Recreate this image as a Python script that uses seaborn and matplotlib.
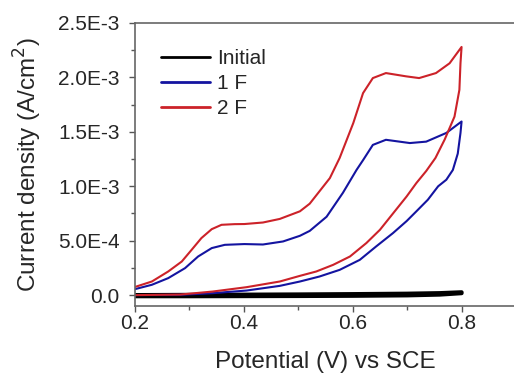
"""
Voltametria cíclica: densidade de corrente vs potencial (Initial, 1 F, 2 F)
"""

import pandas as pd
import matplotlib.pyplot as plt
import seaborn as sns

# Varredura da amostra inicial (ida e volta)
initial_potential = [0.20, 0.30, 0.40, 0.50, 0.60, 0.70, 0.76, 0.80,
                     0.80, 0.76, 0.70, 0.60, 0.50, 0.40, 0.30, 0.20]
initial_current = [0.0, 2e-6, 4e-6, 6e-6, 9e-6, 1.3e-5, 1.8e-5, 2.6e-5,
                   1.8e-5, 5e-6, -2e-6, -6e-6, -8e-6, -9e-6, -1e-5, -1e-5]

# Amostra 1 F
f1_potential = [0.200, 0.231, 0.261, 0.292, 0.316, 0.341, 0.365, 0.401, 0.435, 0.472,
                0.503, 0.521, 0.552, 0.582, 0.607, 0.619, 0.637, 0.661, 0.705, 0.735,
                0.772, 0.800, 0.798, 0.793, 0.784, 0.772, 0.757, 0.738, 0.717, 0.699,
                0.674, 0.643, 0.613, 0.576, 0.539, 0.503, 0.466, 0.405, 0.343, 0.283,
                0.200]
f1_current = [5.5e-5, 9.5e-5, 1.56e-4, 2.48e-4, 3.55e-4, 4.32e-4, 4.62e-4, 4.69e-4, 4.65e-4, 4.93e-4,
              5.45e-4, 5.9e-4, 7.2e-4, 9.4e-4, 1.15e-3, 1.24e-3, 1.38e-3, 1.427e-3, 1.397e-3, 1.41e-3,
              1.49e-3, 1.595e-3, 1.49e-3, 1.30e-3, 1.15e-3, 1.06e-3, 1.0e-3, 8.76e-4, 7.7e-4, 6.8e-4,
              5.7e-4, 4.47e-4, 3.24e-4, 2.32e-4, 1.71e-4, 1.25e-4, 8.5e-5, 4.2e-5, 1.8e-5, 3e-6,
              0.0]

# Amostra 2 F
f2_potential = [0.200, 0.231, 0.261, 0.286, 0.304, 0.322, 0.341, 0.359, 0.383, 0.401,
                0.435, 0.466, 0.503, 0.521, 0.558, 0.576, 0.601, 0.619, 0.637, 0.661,
                0.698, 0.722, 0.753, 0.778, 0.800, 0.798, 0.796, 0.787, 0.769, 0.752,
                0.735, 0.717, 0.699, 0.674, 0.650, 0.625, 0.595, 0.564, 0.533, 0.503,
                0.466, 0.405, 0.343, 0.283, 0.200]
f2_current = [7.5e-5, 1.25e-4, 2.17e-4, 3.09e-4, 4.16e-4, 5.24e-4, 6.06e-4, 6.46e-4, 6.52e-4, 6.53e-4,
              6.67e-4, 7.0e-4, 7.7e-4, 8.4e-4, 1.075e-3, 1.26e-3, 1.58e-3, 1.856e-3, 1.994e-3, 2.04e-3,
              2.01e-3, 1.994e-3, 2.04e-3, 2.13e-3, 2.28e-3, 2.13e-3, 1.886e-3, 1.64e-3, 1.43e-3, 1.26e-3,
              1.14e-3, 1.03e-3, 9.06e-4, 7.5e-4, 6.0e-4, 4.78e-4, 3.55e-4, 2.78e-4, 2.17e-4, 1.77e-4,
              1.25e-4, 7.3e-5, 3.3e-5, 5e-6, 0.0]

series_names = ['Initial', '1 F', '2 F']
series_colors = ['#000000', '#1414A0', '#CC2229']

x_ticks = [0.2, 0.4, 0.6, 0.8]
x_tick_labels = ['0.2', '0.4', '0.6', '0.8']
y_ticks = [0.0, 5e-4, 1e-3, 1.5e-3, 2e-3, 2.5e-3]
y_tick_labels = ['0.0', '5.0E-4', '1.0E-3', '1.5E-3', '2.0E-3', '2.5E-3']

# Monta a tabela longa para o seaborn
frames = []
for name, pot, cur in zip(series_names,
                          [initial_potential, f1_potential, f2_potential],
                          [initial_current, f1_current, f2_current]):
    frames.append(pd.DataFrame({'potential': pot, 'current': cur, 'sample': name}))
df = pd.concat(frames, ignore_index=True)

sns.set_style('ticks')
plt.rcParams['font.family'] = ['Liberation Sans', 'DejaVu Sans']

fig = plt.figure(figsize=(5.14, 3.73), dpi=100)
ax = fig.add_axes([135 / 514, 67 / 373, 381 / 514, 283 / 373])

sns.lineplot(
    data=df, x='potential', y='current', hue='sample', hue_order=series_names,
    palette=series_colors, sort=False, estimator=None, linewidth=1.5, ax=ax
)
# A linha inicial é mais grossa na figura original
ax.lines[0].set_linewidth(3)

ax.set_xlim(0.2, 0.9)
ax.set_ylim(-1e-4, 2.5e-3)
ax.set_xticks(x_ticks)
ax.set_xticklabels(x_tick_labels)
ax.set_yticks(y_ticks)
ax.set_yticklabels(y_tick_labels)
ax.set_xticks([0.3, 0.5, 0.7], minor=True)
ax.set_yticks([2.5e-4, 7.5e-4, 1.25e-3, 1.75e-3, 2.25e-3], minor=True)
ax.tick_params(axis='both', which='major', direction='out', length=4.5, width=1,
               labelsize=15, color='#555555')
ax.tick_params(axis='x', which='major', pad=1.5)
ax.tick_params(axis='y', which='major', pad=6.5)
ax.tick_params(axis='both', which='minor', direction='out', length=3, width=1,
               color='#555555')

for spine in ax.spines.values():
    spine.set_color('#666666')
    spine.set_linewidth(1.2)

ax.set_xlabel('Potential (V) vs SCE', fontsize=17.5, labelpad=13)
ax.set_ylabel('Current density (A/cm$^2$)', fontsize=17.5, labelpad=10)

# Legenda sem moldura no canto superior esquerdo
leg = ax.legend(
    loc='upper left', bbox_to_anchor=(26 / 381, 257 / 283), frameon=False,
    fontsize=15, handlelength=2.35, handletextpad=0.33, borderpad=0,
    borderaxespad=0, labelspacing=0.3
)
for line in leg.get_lines():
    line.set_linewidth(2)

plt.savefig('out.png', dpi=100)
